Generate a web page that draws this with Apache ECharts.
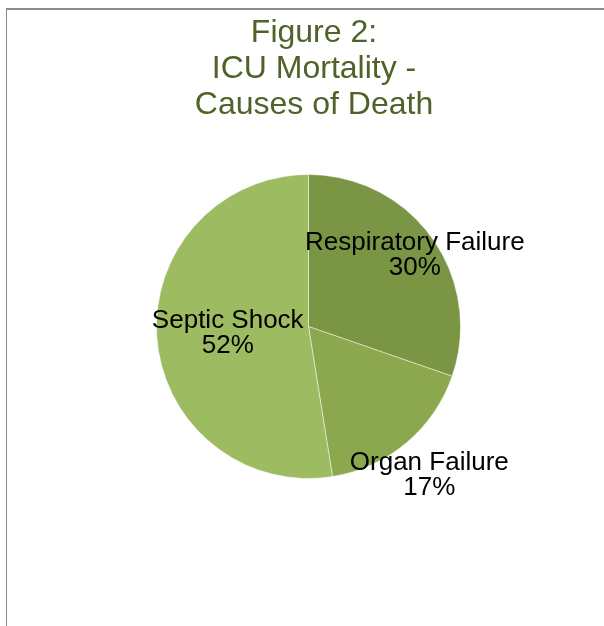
<!DOCTYPE html>
<html>
<head>
<meta charset="utf-8">
<script src="https://cdn.jsdelivr.net/npm/echarts@6/dist/echarts.min.js"></script>
<style>
  html, body { margin: 0; padding: 0; background: #ffffff; }
  #chart { width: 604px; height: 626px; }
</style>
</head>
<body>
<div id="chart"></div>
<script>
// Causes of death among ICU patients (percent of deaths)
const causes = ['Respiratory Failure', 'Organ Failure', 'Septic Shock'];
const shares = [30, 17, 52];
const sliceColors = ['#7a9544', '#8ba84f', '#9dbb61'];
// label nudges away from the default inside anchor, per slice
const labelOffsets = [[42, -25], [70, 88], [-2, 1]];

const chart = echarts.init(document.getElementById('chart'), null, { renderer: 'canvas' });

const data = causes.map((name, i) => ({
  name: name,
  value: shares[i],
  itemStyle: { color: sliceColors[i] },
  label: { offset: labelOffsets[i] }
}));

chart.setOption({
  backgroundColor: '#ffffff',
  animation: false,
  title: {
    text: 'Figure 2:\nICU Mortality -\nCauses of Death',
    left: 309,
    top: 10,
    textAlign: 'center',
    textStyle: {
      fontFamily: 'Liberation Sans, Arial, sans-serif',
      fontSize: 32,
      fontWeight: 'normal',
      color: '#4f6228',
      lineHeight: 36,
      align: 'center'
    }
  },
  graphic: [
    { type: 'line', shape: { x1: 6, y1: 9, x2: 604, y2: 9 }, style: { stroke: '#8c8c8c', lineWidth: 2 }, silent: true },
    { type: 'line', shape: { x1: 6.5, y1: 8, x2: 6.5, y2: 626 }, style: { stroke: '#8c8c8c', lineWidth: 1 }, silent: true }
  ],
  series: [{
    type: 'pie',
    center: [308.5, 326.5],
    radius: 152,
    startAngle: 90,
    clockwise: true,
    avoidLabelOverlap: false,
    itemStyle: { borderColor: 'rgba(255,255,255,0.45)', borderWidth: 1 },
    label: {
      show: true,
      position: 'inside',
      formatter: '{b}\n{c}%',
      fontFamily: 'Liberation Sans, Arial, sans-serif',
      fontSize: 26,
      lineHeight: 25,
      color: '#000000',
      align: 'center',
      textBorderWidth: 0
    },
    labelLine: { show: false },
    emphasis: { disabled: true },
    data: data
  }]
});
</script>
</body>
</html>
